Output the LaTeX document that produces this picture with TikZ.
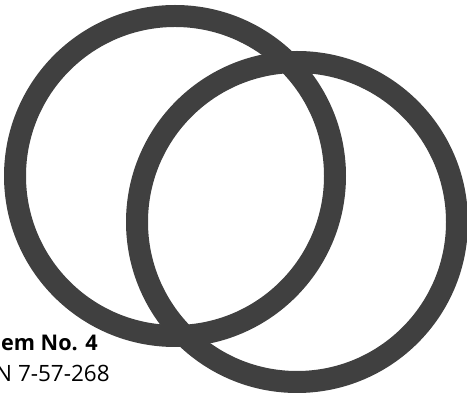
\documentclass[tikz,border=0pt]{standalone}
\usepackage{fontspec}
\setmainfont{Open Sans}
\usepackage{xcolor}
\definecolor{ringgray}{HTML}{404040}

\begin{document}
\begin{tikzpicture}[
      x=0.02cm, y=-0.02cm,
      ring/.style={draw=ringgray, line width=0.44cm},
      every node/.style={inner sep=0pt, anchor=base east, font=\fontsize{12.3}{14}\selectfont}
    ]
    \useasboundingbox (0,0) rectangle (467,394);

    \draw[ring] (175,176) circle (160);
    \draw[ring] (297,222) circle (160);

    \node (item) at (98,351) {\bfseries em No. 4};
    \node[font=\fontsize{12.8}{14}\selectfont] (code) at (110,382) {N 7-57-268};
  \end{tikzpicture}
\end{document}
